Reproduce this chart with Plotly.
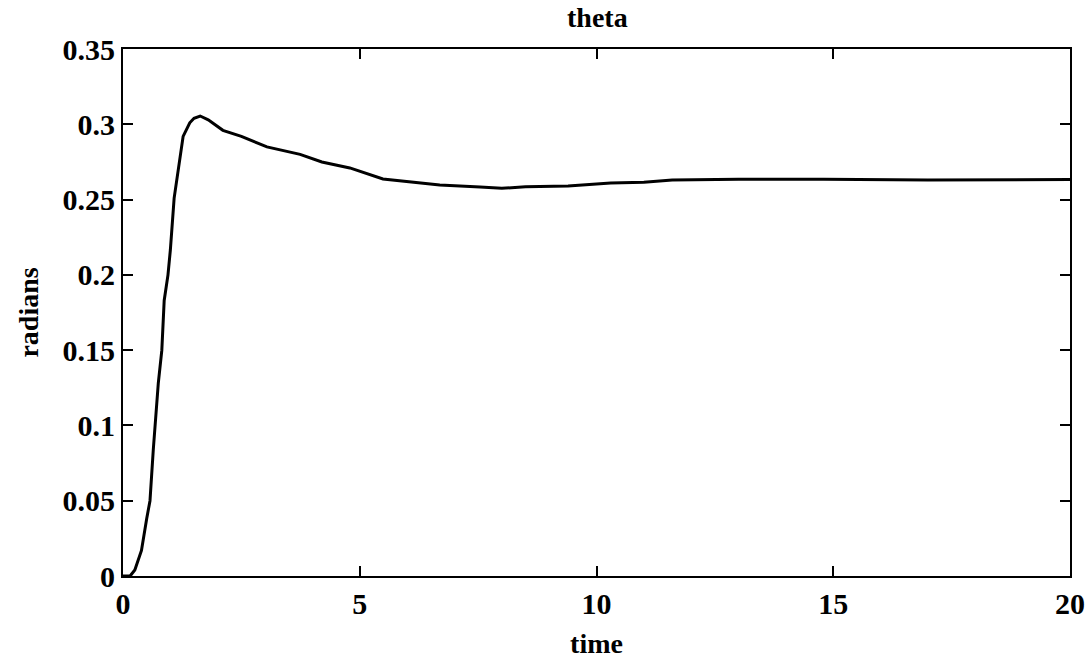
import plotly.graph_objects as go

time_vals = [0, 0.15, 0.25, 0.39, 0.5, 0.57, 0.64, 0.7, 0.745, 0.82, 0.87, 0.95, 1.0,
             1.08, 1.14, 1.27, 1.41, 1.5, 1.63, 1.8, 2.11, 2.5, 3.04, 3.74, 4.2, 4.79,
             5.49, 6.0, 6.69, 7.54, 8.0, 8.5, 9.0, 9.4, 10.3, 11.0, 11.6, 13.0, 14.8,
             17.0, 20.0]
theta_vals = [0, 0, 0.004, 0.017, 0.038, 0.05, 0.084, 0.108, 0.128, 0.150, 0.183, 0.200,
              0.2165, 0.251, 0.263, 0.292, 0.301, 0.304, 0.3055, 0.303, 0.296, 0.292,
              0.285, 0.280, 0.275, 0.271, 0.2637, 0.262, 0.2597, 0.2583, 0.2575, 0.2585,
              0.259, 0.259, 0.261, 0.2615, 0.263, 0.2635, 0.2635, 0.263, 0.2633]

x_ticks = [0, 5, 10, 15, 20]
y_ticks = [0, 0.05, 0.1, 0.15, 0.2, 0.25, 0.3, 0.35]
y_tick_text = ["0", "0.05", "0.1", "0.15", "0.2", "0.25", "0.3", "0.35"]

font_family = "Liberation Serif"

fig = go.Figure()
fig.add_trace(go.Scatter(x=time_vals, y=theta_vals, mode="lines",
                         line=dict(color="black", width=3), showlegend=False))

axis_common = dict(showgrid=False, zeroline=False, showline=True, linecolor="black",
                   linewidth=2, mirror="ticks", ticks="inside", ticklen=10,
                   tickwidth=2, tickcolor="black", automargin=False,
                   tickfont=dict(family=font_family, size=30, color="black"))

fig.update_layout(
    width=1090, height=666,
    margin=dict(l=123, r=20, t=49, b=90),
    paper_bgcolor="white", plot_bgcolor="white",
    title=dict(text="<b>theta</b>", x=0.548, xanchor="center", y=0.974, yanchor="middle",
               font=dict(family=font_family, size=28, color="black")),
    xaxis=dict(range=[0, 20], tickvals=x_ticks, ticktext=[f"<b>{v}</b>" for v in x_ticks],
               title=dict(text="<b>time</b>", standoff=14,
                          font=dict(family=font_family, size=28, color="black")),
               **axis_common),
    yaxis=dict(range=[0, 0.35], tickvals=y_ticks, ticktext=[f"<b>{t}</b>" for t in y_tick_text],
               title=dict(text="<b>radians</b>", standoff=16,
                          font=dict(family=font_family, size=28, color="black")),
               **axis_common),
)

fig.write_html("out.html")
